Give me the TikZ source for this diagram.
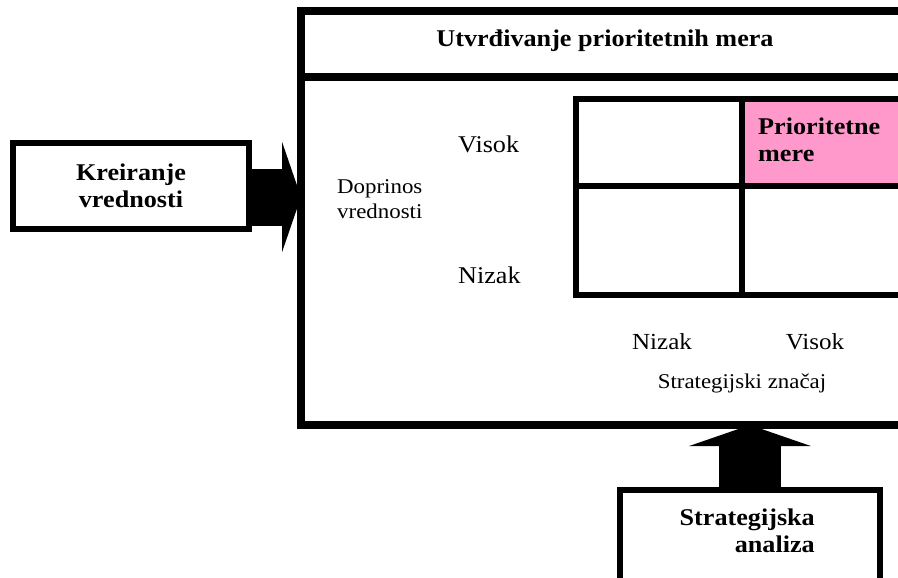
\documentclass[tikz,border=0pt]{standalone}
\usepackage{fontspec}
\setmainfont{Liberation Serif}[FakeStretch=1.09]
\usetikzlibrary{arrows.meta}
\definecolor{prio}{HTML}{FF99CC}
\begin{document}
\begin{tikzpicture}[x=1pt,y=-1pt,
  frame/.style={draw=black,line width=8pt,line cap=rect},
  boxsix/.style={draw=black,line width=6pt,rectangle,inner sep=0pt,outer sep=0pt},
  gridline/.style={draw=black,line width=6pt,line cap=rect},
  boldtxt/.style={font=\fontsize{24}{27}\selectfont\bfseries,inner sep=0pt},
  lbl/.style={font=\fontsize{24}{27}\selectfont,inner sep=0pt},
  lblsmall/.style={font=\fontsize{23}{27}\selectfont,inner sep=0pt},
  blockarrow/.style={draw=black,line cap=butt}
]
\useasboundingbox (0,0) rectangle (898,578);
\clip (0,0) rectangle (898,578);
\fill[white] (0,0) rectangle (898,578);

% main frame
\node[frame,rectangle,inner sep=0pt,outer sep=0pt,minimum width=619pt,minimum height=413.5pt] (main) at (610.5,218.25) {};
\draw[frame] ([yshift=-66pt]main.north west) -- ([yshift=-66pt]main.north east);
\node[boldtxt,anchor=base] (title) at (605,47) {Utvrđivanje prioritetnih mera};

% matrix
\fill[prio] (741.5,99.5) rectangle (910,186);
\draw[gridline] (910,99.5) -- (576,99.5) -- (576,294.5) -- (910,294.5);
\draw[gridline] (576,186) -- (910,186);
\draw[gridline] (741.5,99.5) -- (741.5,294.5);
\node[boldtxt,align=left,anchor=west] (prio) at (758,140) {Prioritetne\\mere};

% axis labels
\node[lbl,anchor=base west] (vhigh) at (458,152) {Visok};
\node[lbl,anchor=base west] (vlow) at (458,283) {Nizak};
\node[font=\fontsize{21}{25}\selectfont,inner sep=0pt,align=left,anchor=west] (vaxis) at (337,199.6) {Doprinos\\vrednosti};
\node[lblsmall,anchor=base] (slow) at (662,349) {Nizak};
\node[lblsmall,anchor=base] (shigh) at (815,349) {Visok};
\node[font=\fontsize{21}{25}\selectfont,inner sep=0pt,anchor=base] (saxis) at (742,388) {Strategijski značaj};

% Kreiranje vrednosti
\node[boxsix,boldtxt,align=center,minimum width=236pt,minimum height=86pt] (kv) at (131,186) {Kreiranje\\vrednosti};
\draw[blockarrow,line width=57pt,-{Triangle[length=19pt,width=110pt]}]
  ([yshift=-11pt]kv.east) -- ([yshift=-11pt]main.west |- kv.east);

% Strategijska analiza
\node[boxsix,minimum width=260pt,minimum height=130pt] (sa) at (750,555) {};
\node[boldtxt,align=right,anchor=east] (satext) at (815,530.75) {Strategijska\\analiza};
\draw[blockarrow,line width=62pt,-{Triangle[length=21pt,width=121pt]}]
  (sa.north) -- (sa.north |- main.south);
\end{tikzpicture}
\end{document}
